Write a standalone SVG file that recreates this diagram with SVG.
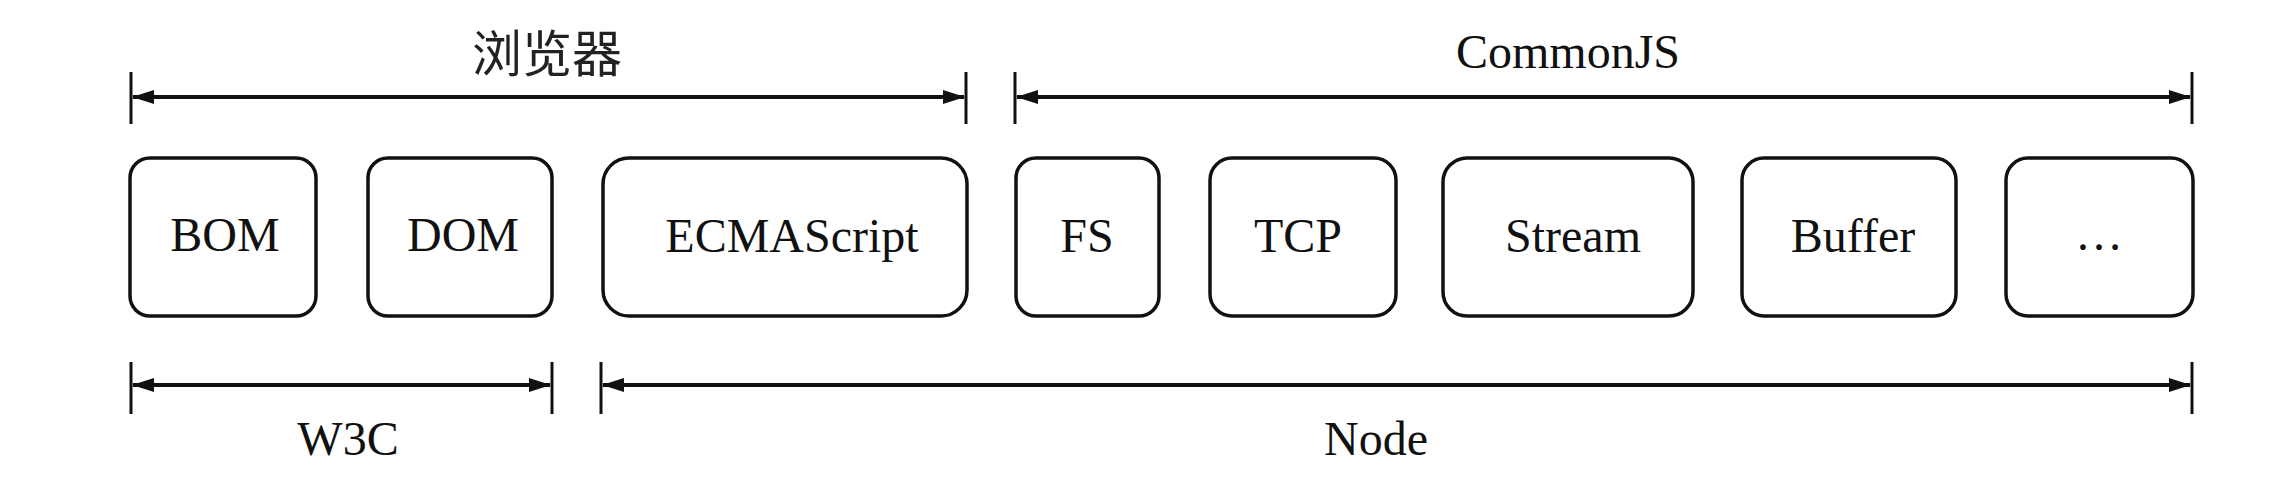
<svg xmlns="http://www.w3.org/2000/svg" width="2276" height="480" viewBox="0 0 2276 480">
  <style>
    .box { fill: #ffffff; stroke: #111111; stroke-width: 3.5; }
    .lbl { font-family: "Liberation Serif", "Times New Roman", serif; font-size: 48px; fill: #111111; text-anchor: middle; }
    .cjk { font-family: "Liberation Serif", "Noto Sans CJK SC", sans-serif; font-size: 50px; fill: #222222; text-anchor: middle; }
    .dim { stroke: #111111; stroke-width: 4; fill: none; }
    .tick { stroke: #111111; stroke-width: 3; }
  </style>
  <defs>
    <marker id="arr" markerUnits="userSpaceOnUse" markerWidth="22" markerHeight="16" refX="21" refY="8" orient="auto-start-reverse">
      <path d="M0,1 L22,8 L0,15 Z" fill="#111111"/>
    </marker>
  </defs>
  <rect width="2276" height="480" fill="#ffffff"/>

  <g id="nodes">
    <g id="node-bom">
      <rect class="box" x="130" y="158" width="186" height="158" rx="20" ry="20"/>
      <text class="lbl" x="225" y="251">BOM</text>
    </g>
    <g id="node-dom">
      <rect class="box" x="368" y="158" width="184" height="158" rx="20" ry="20"/>
      <text class="lbl" x="463" y="251">DOM</text>
    </g>
    <g id="node-ecmascript">
      <rect class="box" x="603" y="158" width="364" height="158" rx="26" ry="26"/>
      <text class="lbl" x="792" y="252">ECMAScript</text>
    </g>
    <g id="node-fs">
      <rect class="box" x="1016" y="158" width="143" height="158" rx="20" ry="20"/>
      <text class="lbl" x="1087" y="252">FS</text>
    </g>
    <g id="node-tcp">
      <rect class="box" x="1210" y="158" width="186" height="158" rx="22" ry="22"/>
      <text class="lbl" x="1298" y="252">TCP</text>
    </g>
    <g id="node-stream">
      <rect class="box" x="1443" y="158" width="250" height="158" rx="24" ry="24"/>
      <text class="lbl" x="1573" y="252">Stream</text>
    </g>
    <g id="node-buffer">
      <rect class="box" x="1742" y="158" width="214" height="158" rx="22" ry="22"/>
      <text class="lbl" x="1853" y="252">Buffer</text>
    </g>
    <g id="node-more">
      <rect class="box" x="2006" y="158" width="187" height="158" rx="22" ry="22"/>
      <text class="lbl" x="2099" y="250">…</text>
    </g>
  </g>

  <g id="connectors">
    <!-- 浏览器 -->
    <line class="tick" x1="131" y1="72" x2="131" y2="124"/>
    <line class="tick" x1="966" y1="72" x2="966" y2="124"/>
    <line class="dim" x1="133" y1="97" x2="964" y2="97" marker-start="url(#arr)" marker-end="url(#arr)"/>
    <!-- CommonJS -->
    <line class="tick" x1="1015" y1="72" x2="1015" y2="124"/>
    <line class="tick" x1="2192" y1="72" x2="2192" y2="124"/>
    <line class="dim" x1="1017" y1="97" x2="2190" y2="97" marker-start="url(#arr)" marker-end="url(#arr)"/>
    <!-- W3C -->
    <line class="tick" x1="131" y1="362" x2="131" y2="414"/>
    <line class="tick" x1="552" y1="362" x2="552" y2="414"/>
    <line class="dim" x1="133" y1="385" x2="550" y2="385" marker-start="url(#arr)" marker-end="url(#arr)"/>
    <!-- Node -->
    <line class="tick" x1="601" y1="362" x2="601" y2="414"/>
    <line class="tick" x1="2192" y1="362" x2="2192" y2="414"/>
    <line class="dim" x1="603" y1="385" x2="2190" y2="385" marker-start="url(#arr)" marker-end="url(#arr)"/>
  </g>

  <g id="labels">
    <text class="cjk" x="547" y="72">浏览器</text>
    <text class="lbl" x="1568" y="68">CommonJS</text>
    <text class="lbl" x="348" y="455">W3C</text>
    <text class="lbl" x="1376" y="455">Node</text>
  </g>
</svg>
